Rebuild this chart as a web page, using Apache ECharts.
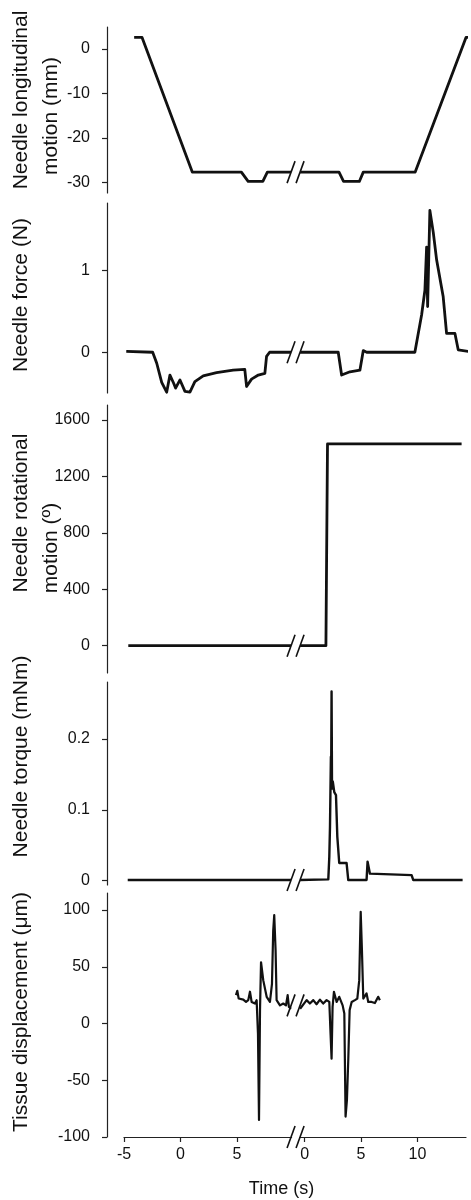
<!DOCTYPE html>
<html>
<head>
<meta charset="utf-8">
<script src="https://cdn.jsdelivr.net/npm/echarts@6.0.0/dist/echarts.min.js"></script>
<style>
  html, body { margin: 0; padding: 0; background: #fff; }
  #chart { width: 471px; height: 1200px; }
</style>
</head>
<body>
<div id="chart"></div>
<script>
// the time axis is broken: the second recording starts again at 0,
// it is drawn SHIFT seconds to the right of the first one
const SHIFT = 11;
const BREAK_AT = 10.2;
const leftTicks = [-5, 0, 5];
const rightTicks = [0, 5, 10];

// [time (s), value] — first recording / second recording
const longLeft = [[-4.1, 2.6], [-3.4, 2.6], [1.05, -27.7], [5.4, -27.7], [6.0, -29.8], [7.3, -29.8], [7.7, -27.7], [9.8, -27.7]];
const longRight = [[-0.4, -27.7], [3.05, -27.7], [3.45, -29.8], [4.85, -29.8], [5.2, -27.7], [9.8, -27.7], [14.3, 2.6], [14.6, 2.6]];

const forceLeft = [[-4.8, 0.01], [-2.46, 0], [-2.1, -0.135], [-1.66, -0.37], [-1.22, -0.49], [-0.93, -0.28], [-0.6, -0.38], [-0.43, -0.44],
  [-0.04, -0.34], [0.4, -0.48], [0.84, -0.49], [1.28, -0.36], [2.02, -0.29], [3.2, -0.25], [4.67, -0.22], [5.7, -0.21],
  [5.86, -0.42], [6.3, -0.33], [6.9, -0.28], [7.48, -0.26], [7.63, -0.05], [7.9, 0], [9.8, 0]];
const forceRight = [[-0.4, 0], [2.98, 0], [3.28, -0.28], [4.02, -0.24], [4.9, -0.22], [5.2, 0.02], [5.5, 0], [9.77, 0],
  [10.37, 0.46], [10.66, 0.76], [10.81, 1.29], [10.9, 0.56], [11.1, 1.74], [11.4, 1.47], [11.7, 1.13], [12.28, 0.68],
  [12.58, 0.23], [13.32, 0.23], [13.61, 0.03], [14.5, 0.01]];

const rotLeft = [[-4.62, 0], [9.8, 0]];
const rotRight = [[-0.4, 0], [1.89, 0], [2.03, 1430], [13.91, 1430]];

const torqueLeft = [[-4.67, 0.001], [9.8, 0.001]];
const torqueRight = [[-0.4, 0.001], [2.1, 0.002], [2.19, 0.034], [2.25, 0.076], [2.33, 0.175], [2.36, 0.17], [2.39, 0.267],
  [2.43, 0.13], [2.5, 0.14], [2.63, 0.125], [2.78, 0.121], [2.9, 0.062], [3.07, 0.025], [3.72, 0.025], [3.87, 0.001],
  [5.49, 0.001], [5.58, 0.027], [5.79, 0.01], [9.48, 0.008], [9.63, 0.001], [14.0, 0.001]];

const tissueLeft = [[4.92, 25], [5.04, 28.8], [5.16, 22], [5.33, 20.6], [5.57, 21], [5.81, 19], [6.01, 20.6], [6.16, 28],
  [6.31, 19], [6.6, 17.6], [6.75, 20.6], [6.87, -9], [6.96, -85], [7.05, 12], [7.14, 54], [7.34, 38], [7.64, 23.5],
  [7.93, 19], [8.11, 35], [8.22, 82], [8.31, 95.6], [8.43, 64.7], [8.52, 20.6], [8.82, 16], [9.11, 17.6], [9.35, 16],
  [9.5, 25], [9.61, 14.7], [9.8, 13]];
const tissueRight = [[-0.4, 13], [0.18, 20.6], [0.47, 17.6], [0.77, 20.6], [1.06, 17], [1.36, 21], [1.65, 17.6], [1.95, 20.6],
  [2.19, 19], [2.3, -9], [2.39, -31], [2.48, 14.7], [2.6, 28], [2.84, 19], [3.07, 23.5], [3.37, 16], [3.52, 8.8],
  [3.63, -82], [3.75, -67.6], [3.87, -32], [3.99, 11.8], [4.17, 19], [4.46, 20.6], [4.67, 22], [4.84, 38], [4.97, 98.5],
  [5.08, 64.7], [5.2, 22], [5.49, 26.5], [5.64, 19], [5.94, 19], [6.23, 18], [6.52, 23.5], [6.67, 20.6]];

// y levels where the // break marks cross each trace, [value, maskAxis]
const breakLevels = [[[-27.7, 0]], [[0, 0]], [[0, 0]], [[0.001, 0]], [[16, 0], [-100, 1]]];

const yTicks = [[0, -10, -20, -30], [0, 1], [0, 400, 800, 1200, 1600], [0, 0.1, 0.2], [-100, -50, 0, 50, 100]];

const panels = [
  { name: 'Needle longitudinal\n{l2|motion (mm)}', l2pad: 32, left: longLeft, right: longRight, min: -32.4, max: 4.95, top: 27, height: 166, gap: 41, shift: 10, lw: 2.8 },
  { name: 'Needle force (N)', l2pad: 0, left: forceLeft, right: forceRight, min: -0.5, max: 1.83, top: 203, height: 190, gap: 71, shift: 3, lw: 2.8 },
  { name: 'Needle rotational\n{l2|motion (º)}', l2pad: 70, left: rotLeft, right: rotRight, min: -193.5, max: 1706, top: 405, height: 268, gap: 41, shift: 26, lw: 2.8 },
  { name: 'Needle torque (mNm)', l2pad: 0, left: torqueLeft, right: torqueRight, min: -0.006, max: 0.2805, top: 682, height: 203, gap: 71, shift: 27, lw: 2.4 },
  { name: 'Tissue displacement (μm)', l2pad: 0, left: tissueLeft, right: tissueRight, min: -100, max: 115, top: 893, height: 244, gap: 71, shift: 3, lw: 2.2 }
];

const X_MIN = -5, X_MAX = 25.3;
const FONT = 'Liberation Sans, Arial, Helvetica, sans-serif';
const INK = '#111';
const AXIS = '#222';

const xTickPos = leftTicks.concat(rightTicks.map(v => v + SHIFT));

function breakRender(params, api) {
  const p = api.coord([api.value(0), api.value(1)]);
  const style = { stroke: INK, lineWidth: 1.6 };
  const children = [];
  if (api.value(2)) {
    children.push({ type: 'rect', shape: { x: p[0] - 3.5, y: p[1] - 3, width: 7, height: 6 }, style: { fill: '#fff' } });
  }
  [-4.5, 4.5].forEach(d => {
    children.push({ type: 'line', shape: { x1: p[0] + d - 4, y1: p[1] + 11, x2: p[0] + d + 4, y2: p[1] - 11 }, style: style });
  });
  return { type: 'group', children: children };
}

const grid = [], xAxis = [], yAxis = [], series = [];
panels.forEach((p, i) => {
  const last = i === panels.length - 1;
  grid.push({ left: 124, width: 342, top: p.top, height: p.height, containLabel: false, outerBoundsMode: 'none' });
  xAxis.push({
    gridIndex: i, type: 'value', min: X_MIN, max: X_MAX, show: last,
    axisLine: { show: true, onZero: false, lineStyle: { color: AXIS, width: 1.2 } },
    axisTick: { show: true, customValues: xTickPos, length: 5, lineStyle: { color: AXIS, width: 1.2 } },
    axisLabel: {
      customValues: xTickPos, margin: 10, color: INK, fontSize: 16, fontFamily: FONT,
      formatter: v => String(v > BREAK_AT ? Math.round(v - SHIFT) : v)
    },
    splitLine: { show: false },
    name: last ? 'Time (s)' : '', nameLocation: 'middle', nameGap: 43, nameMoveOverlap: false,
    nameTextStyle: { color: INK, fontSize: 18, fontFamily: FONT, padding: [0, 27, 0, 0] }
  });
  yAxis.push({
    gridIndex: i, type: 'value', min: p.min, max: p.max, offset: 17,
    axisLine: { show: true, onZero: false, lineStyle: { color: AXIS, width: 1.2 } },
    axisTick: { show: true, customValues: yTicks[i], length: 5, lineStyle: { color: AXIS, width: 1.2 } },
    axisLabel: { customValues: yTicks[i], margin: 17, color: INK, fontSize: 16, fontFamily: FONT, formatter: v => String(v) },
    splitLine: { show: false },
    name: p.name, nameLocation: 'middle', nameGap: p.gap, nameMoveOverlap: false,
    nameTextStyle: {
      color: INK, fontSize: 21, lineHeight: 30, fontFamily: FONT, padding: [0, 0, 0, p.shift * 2],
      rich: { l2: { color: INK, fontSize: 21, lineHeight: 30, fontFamily: FONT, padding: [0, p.l2pad, 0, 0] } }
    }
  });
  const lineStyle = { color: INK, width: p.lw, join: 'round' };
  series.push({
    type: 'line', xAxisIndex: i, yAxisIndex: i, data: p.left,
    symbol: 'none', lineStyle: lineStyle, clip: false, animation: false
  });
  series.push({
    type: 'line', xAxisIndex: i, yAxisIndex: i, data: p.right.map(d => [d[0] + SHIFT, d[1]]),
    symbol: 'none', lineStyle: lineStyle, clip: false, animation: false
  });
  series.push({
    type: 'custom', xAxisIndex: i, yAxisIndex: i, renderItem: breakRender, animation: false, z: 5,
    data: breakLevels[i].map(b => [BREAK_AT, b[0], b[1]])
  });
});

const chart = echarts.init(document.getElementById('chart'), null, { renderer: 'canvas' });
chart.setOption({
  backgroundColor: '#fff',
  animation: false,
  grid: grid,
  xAxis: xAxis,
  yAxis: yAxis,
  series: series
});
</script>
</body>
</html>
